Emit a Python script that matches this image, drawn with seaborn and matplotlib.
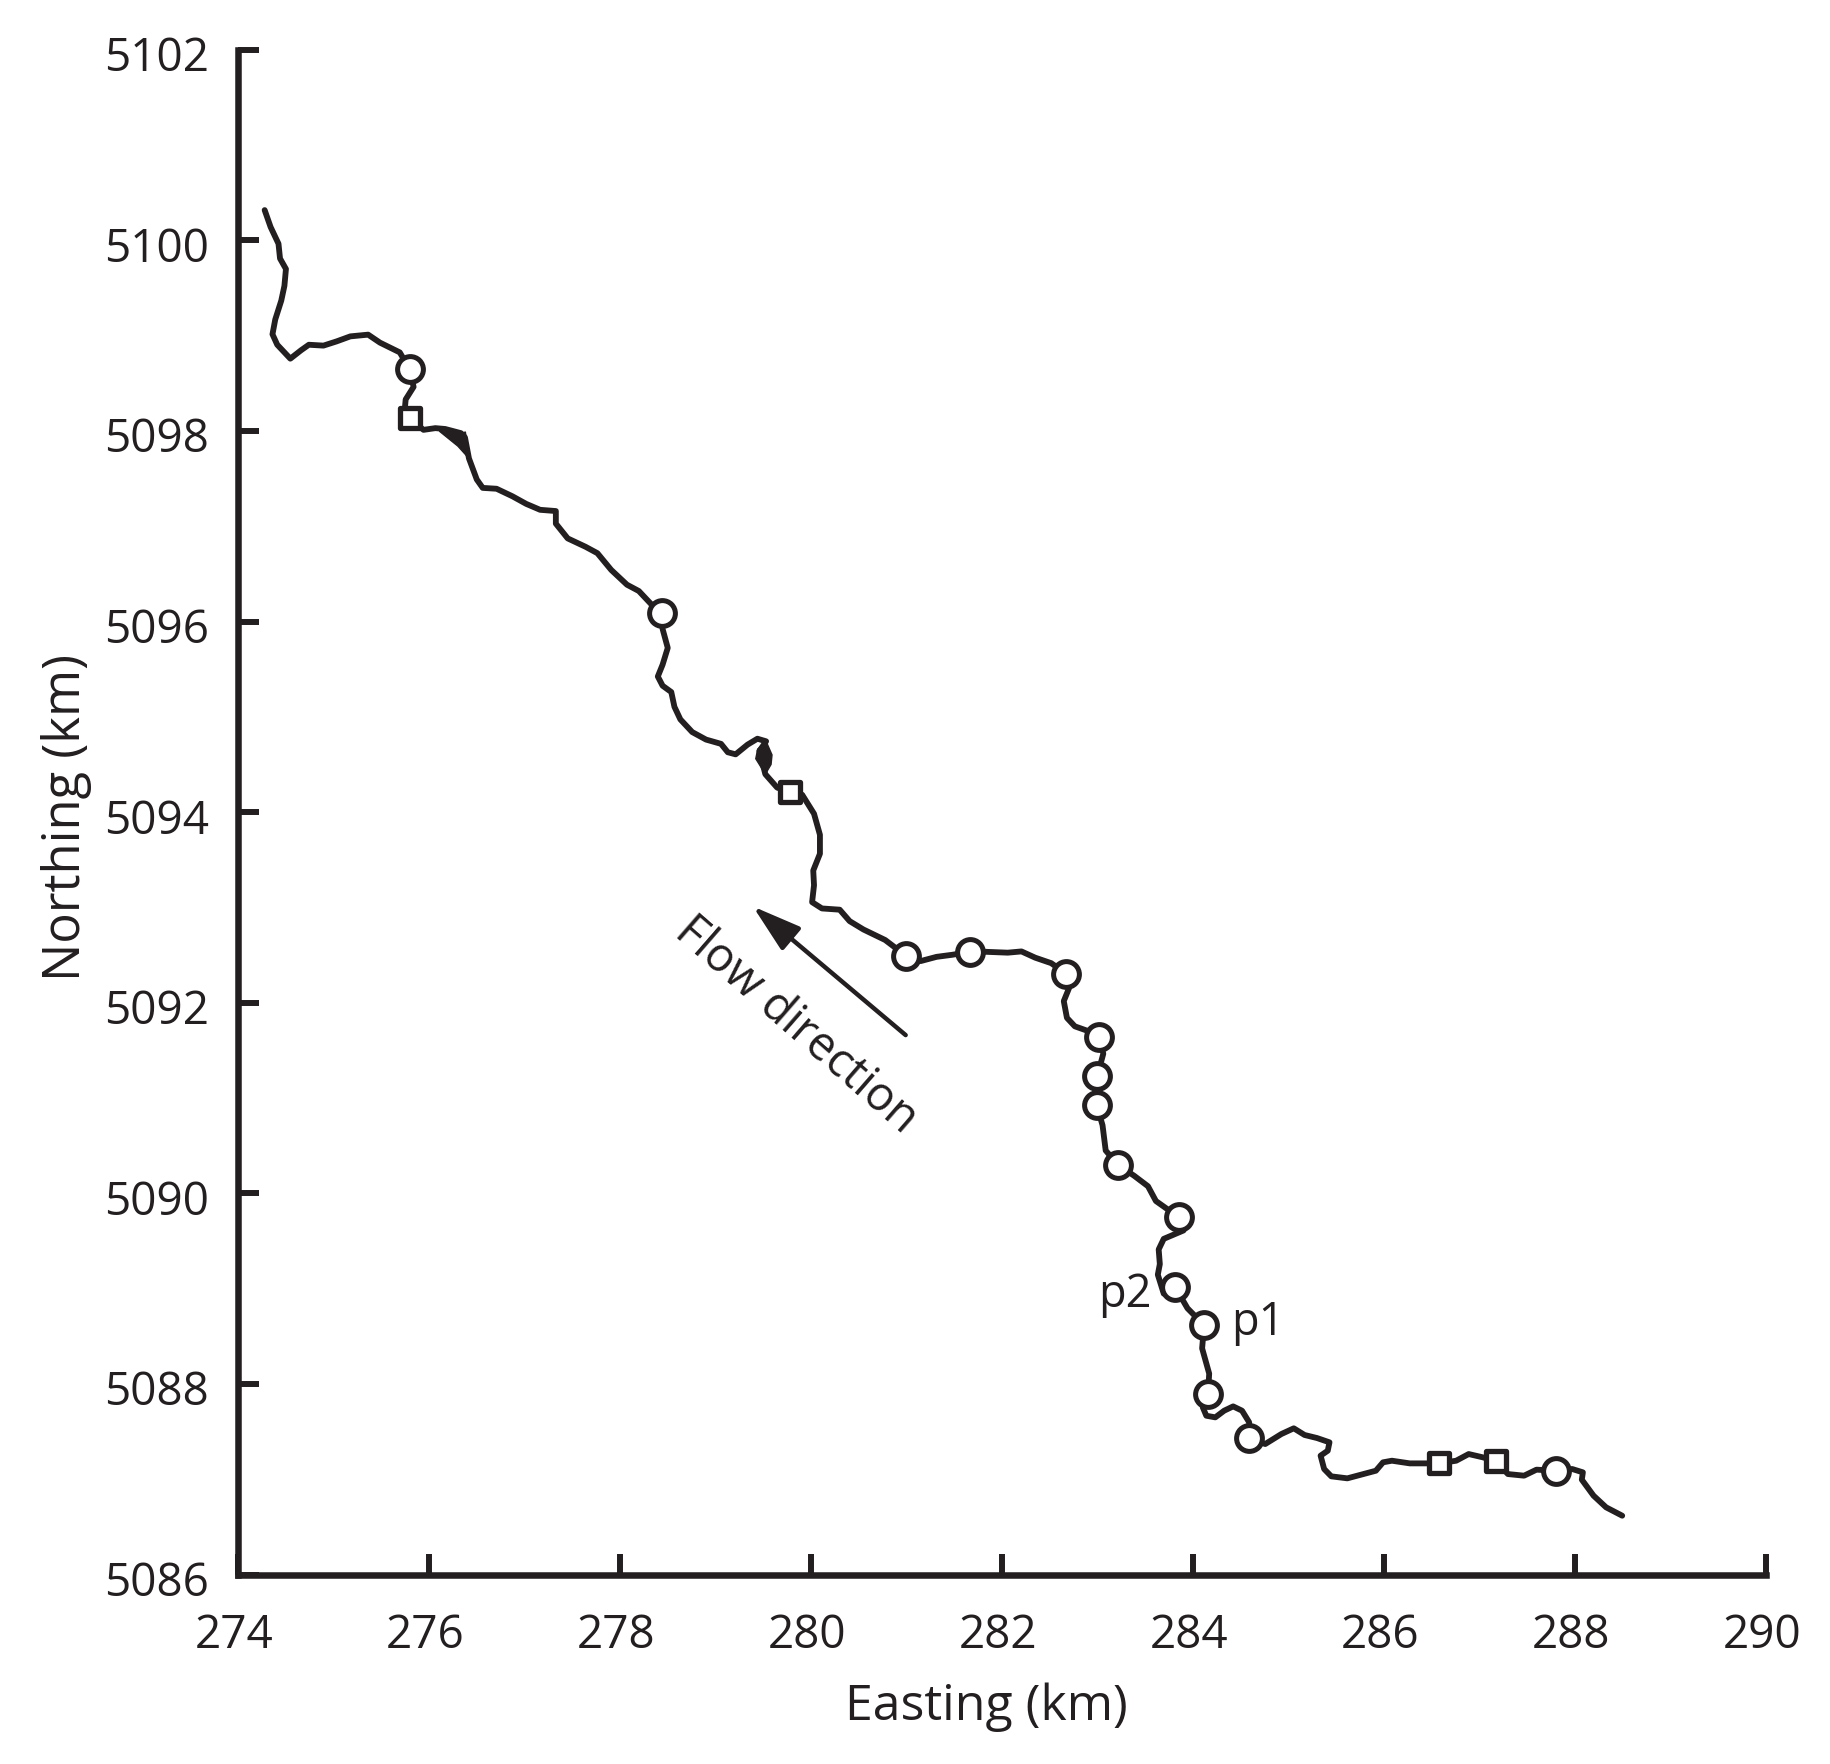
import matplotlib
matplotlib.use("Agg")
import matplotlib.pyplot as plt
import matplotlib.transforms as mtrans
import seaborn as sns

# river trace, km
river_x = [274.276, 274.338, 274.421, 274.437, 274.499, 274.483, 274.450, 274.387, 274.358, 274.408,
           274.545, 274.657, 274.739, 274.892, 275.029, 275.174, 275.360, 275.484, 275.691, 275.795,
           275.836, 275.753, 275.745, 275.795, 275.940, 276.064, 276.167, 276.333, 276.374, 276.416,
           276.498, 276.560, 276.705, 276.871, 277.016, 277.161, 277.326, 277.326, 277.450, 277.637,
           277.761, 277.906, 278.071, 278.195, 278.320, 278.435, 278.444, 278.498, 278.444, 278.394,
           278.444, 278.535, 278.568, 278.630, 278.754, 278.899, 279.056, 279.127, 279.209, 279.334,
           279.437, 279.528, 279.458, 279.520, 279.644, 279.781, 279.906, 280.030, 280.092, 280.092,
           280.022, 280.030, 280.010, 280.113, 280.299, 280.403, 280.548, 280.775, 280.991, 281.148,
           281.313, 281.479, 281.665, 281.831, 282.059, 282.203, 282.348, 282.514, 282.671, 282.700,
           282.646, 282.679, 282.762, 282.886, 283.019, 283.060, 282.998, 282.990, 283.052, 283.085,
           283.217, 283.383, 283.528, 283.611, 283.735, 283.851, 283.900, 283.693, 283.640, 283.652,
           283.631, 283.693, 283.809, 283.942, 284.116, 284.095, 284.169, 284.157, 284.102, 284.139,
           284.233, 284.326, 284.420, 284.513, 284.588, 284.588, 284.756, 284.925, 285.055, 285.168,
           285.298, 285.429, 285.411, 285.336, 285.373, 285.448, 285.616, 285.784, 285.915, 285.990,
           286.083, 286.270, 286.577, 286.756, 286.887, 287.037, 287.175, 287.298, 287.467, 287.597,
           287.803, 287.971, 288.083, 288.072, 288.195, 288.326, 288.495]
river_y = [5100.317, 5100.140, 5099.964, 5099.809, 5099.699, 5099.522, 5099.367, 5099.169, 5099.014, 5098.904,
           5098.758, 5098.846, 5098.904, 5098.895, 5098.939, 5098.992, 5099.010, 5098.926, 5098.824, 5098.648,
           5098.462, 5098.330, 5098.241, 5098.131, 5098.011, 5098.029, 5098.020, 5097.976, 5097.932, 5097.711,
           5097.490, 5097.402, 5097.393, 5097.314, 5097.234, 5097.172, 5097.159, 5097.027, 5096.872, 5096.784,
           5096.717, 5096.541, 5096.386, 5096.320, 5096.187, 5096.090, 5095.922, 5095.723, 5095.547, 5095.423,
           5095.326, 5095.260, 5095.105, 5094.973, 5094.840, 5094.761, 5094.716, 5094.628, 5094.606, 5094.708,
           5094.770, 5094.743, 5094.641, 5094.398, 5094.257, 5094.213, 5094.182, 5093.983, 5093.762, 5093.563,
           5093.387, 5093.232, 5093.055, 5092.989, 5092.976, 5092.856, 5092.768, 5092.658, 5092.494, 5092.437,
           5092.481, 5092.503, 5092.534, 5092.534, 5092.525, 5092.538, 5092.472, 5092.415, 5092.304, 5092.150,
           5092.017, 5091.841, 5091.752, 5091.708, 5091.642, 5091.465, 5091.235, 5090.926, 5090.714, 5090.449,
           5090.295, 5090.184, 5090.074, 5089.919, 5089.831, 5089.751, 5089.610, 5089.522, 5089.411, 5089.257,
           5089.146, 5088.947, 5089.022, 5088.793, 5088.616, 5088.373, 5088.108, 5087.896, 5087.754, 5087.666,
           5087.649, 5087.719, 5087.764, 5087.719, 5087.597, 5087.429, 5087.369, 5087.474, 5087.534, 5087.464,
           5087.432, 5087.387, 5087.299, 5087.247, 5087.107, 5087.030, 5087.009, 5087.054, 5087.089, 5087.177,
           5087.194, 5087.166, 5087.166, 5087.194, 5087.264, 5087.229, 5087.187, 5087.054, 5087.037, 5087.100,
           5087.089, 5087.107, 5087.072, 5086.995, 5086.827, 5086.705, 5086.617]

# filled bits where the trace doubles back
spur_x = [276.105, 276.333, 276.378, 276.416, 276.300]
spur_y = [5097.998, 5097.960, 5097.990, 5097.711, 5097.840]
blob_x = [279.528, 279.590, 279.580, 279.520, 279.420, 279.440]
blob_y = [5094.743, 5094.600, 5094.500, 5094.398, 5094.560, 5094.660]

# pool sites
circle_x = [275.795, 278.435, 280.991, 281.665, 282.671, 283.019, 282.998, 282.990, 283.217, 283.851,
            283.809, 284.116, 284.157, 284.588, 287.803]
circle_y = [5098.648, 5096.090, 5092.494, 5092.534, 5092.304, 5091.642, 5091.235, 5090.926, 5090.295, 5089.751,
            5089.022, 5088.616, 5087.896, 5087.429, 5087.089]
square_x = [275.795, 279.781, 286.577, 287.175]
square_y = [5098.131, 5094.213, 5087.166, 5087.187]

x_ticks = [274, 276, 278, 280, 282, 284, 286, 288, 290]
y_ticks = [5086, 5088, 5090, 5092, 5094, 5096, 5098, 5100, 5102]

ink = "#231f20"

sns.set_theme(style="ticks")
plt.rcParams["font.family"] = ["Open Sans", "DejaVu Sans"]
plt.rcParams["text.color"] = ink

fig = plt.figure(figsize=(18.31, 17.65), dpi=100)
ax = fig.add_axes([238.3 / 1831, 189.5 / 1765, 1527.6 / 1831, 1524.8 / 1765])

sns.lineplot(x=river_x, y=river_y, sort=False, estimator=None, color=ink,
             linewidth=4.2, ax=ax, zorder=2)
ax.fill(spur_x, spur_y, color=ink, zorder=2)
ax.fill(blob_x, blob_y, color=ink, zorder=2)

sns.scatterplot(x=circle_x, y=circle_y, marker="o", s=345, color="white",
                edgecolor=ink, linewidth=3.6, ax=ax, zorder=3)
sns.scatterplot(x=square_x, y=square_y, marker="s", s=210, color="white",
                edgecolor=ink, linewidth=3.8, ax=ax, zorder=3)

ax.set_xlim(274, 290)
ax.set_ylim(5086, 5102)
ax.set_xticks(x_ticks)
ax.set_yticks(y_ticks)
ax.tick_params(axis="both", direction="in", length=15, width=4.3,
               color=ink, labelcolor=ink, labelsize=33)
ax.tick_params(axis="x", pad=27)
ax.tick_params(axis="y", pad=21)

# the labels sit a little off their ticks
x_shift = mtrans.ScaledTranslation(-4 / 100, 0, fig.dpi_scale_trans)
y_shift = mtrans.ScaledTranslation(0, -3 / 100, fig.dpi_scale_trans)
for lab in ax.get_xticklabels():
    lab.set_transform(lab.get_transform() + x_shift)
for lab in ax.get_yticklabels():
    lab.set_transform(lab.get_transform() + y_shift)

sns.despine(ax=ax)
for side in ["left", "bottom"]:
    ax.spines[side].set_linewidth(4.7)
    ax.spines[side].set_color(ink)

ax.set_xlabel("Easting (km)", fontsize=36, color=ink, va="center")
ax.set_ylabel("Northing (km)", fontsize=36.5, color=ink, va="center")
ax.xaxis.set_label_coords(0.4897, -0.0865)
ax.yaxis.set_label_coords(-0.1125, 0.497)

ax.annotate("", xy=(279.39, 5093.01), xytext=(280.99, 5091.66),
            arrowprops=dict(arrowstyle="-|>,head_length=1.25,head_width=0.38",
                            color=ink, lw=3.2, mutation_scale=24,
                            shrinkA=0, shrinkB=0))
ax.text(279.84, 5091.77, "Flow direction", rotation=-41, rotation_mode="anchor",
        ha="center", va="center", fontsize=33.5)
ax.text(283.29, 5088.945, "p2", ha="center", va="center", fontsize=32.5)
ax.text(284.68, 5088.65, "p1", ha="center", va="center", fontsize=32.5)

plt.savefig("out.png", dpi=100)
plt.close()
